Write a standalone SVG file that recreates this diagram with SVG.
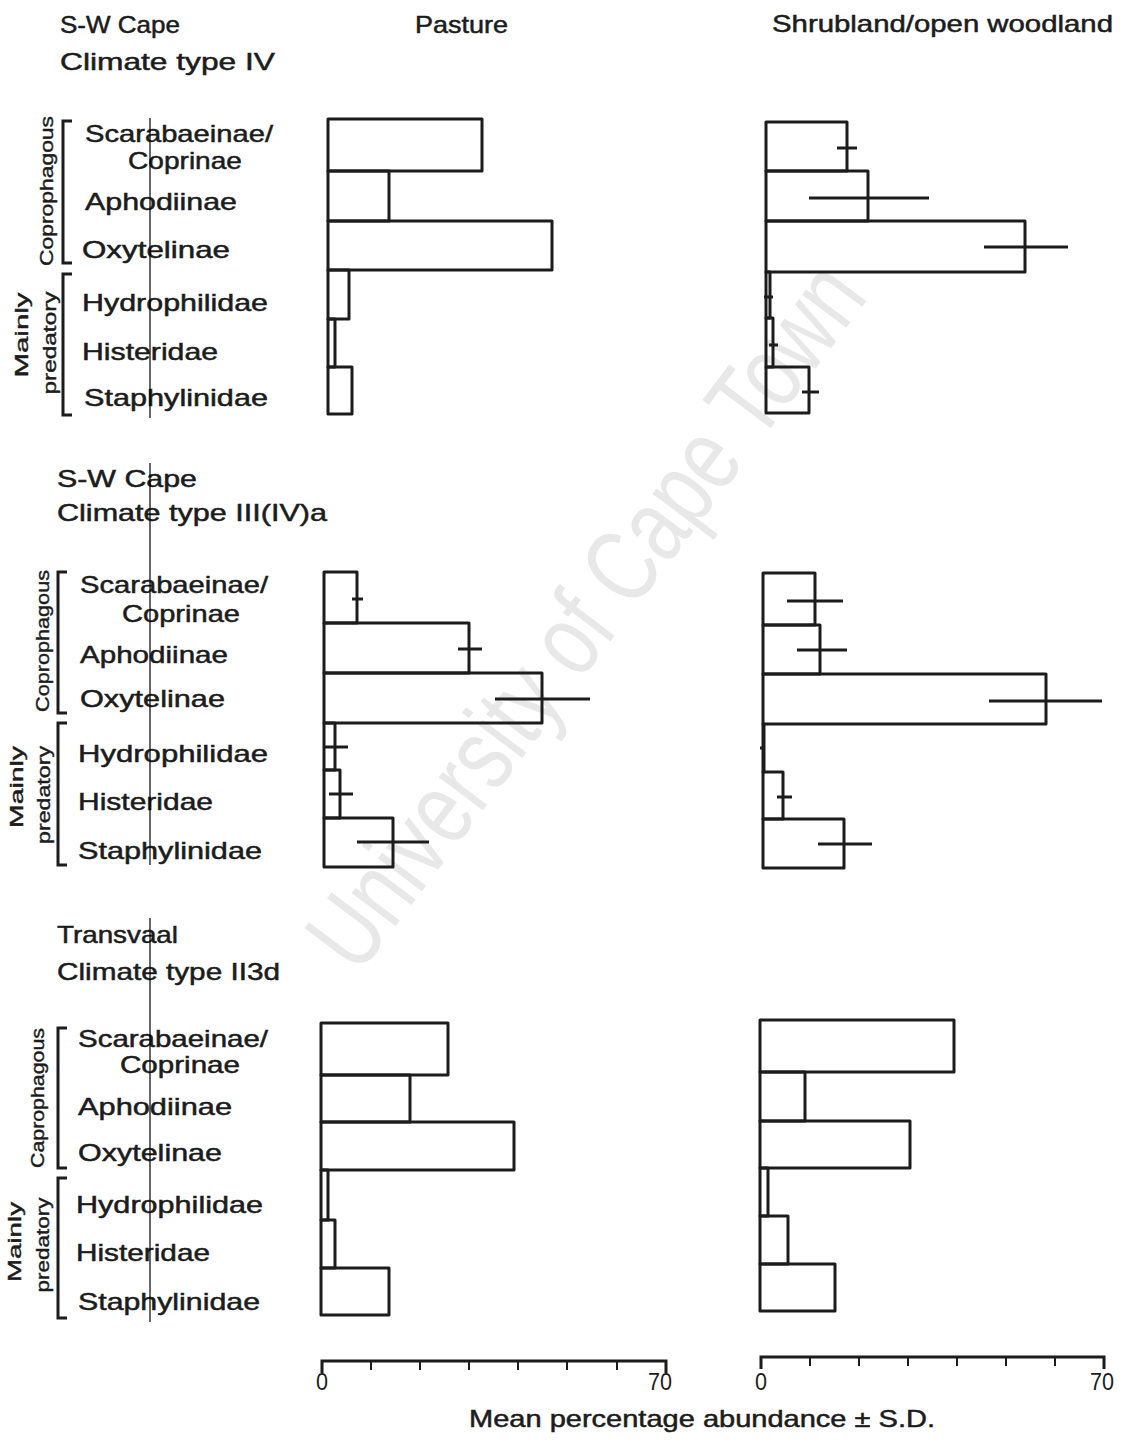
<svg xmlns="http://www.w3.org/2000/svg" width="1135" height="1441" viewBox="0 0 1135 1441">
<style>
.bg{fill:#ffffff}
.wm{font-family:"Liberation Sans",Arial,sans-serif;font-size:104px;fill:#e8e8e8}
.t{font-family:"Liberation Sans",Arial,sans-serif;font-size:24px;fill:#1c1c1c;stroke:#1c1c1c;stroke-width:0.5}
.g{font-family:"Liberation Sans",Arial,sans-serif;font-size:18px;fill:#1c1c1c;stroke:#1c1c1c;stroke-width:0.4}
.n{font-family:"Liberation Sans",Arial,sans-serif;font-size:23px;fill:#1c1c1c}
.bar{fill:none;stroke:#1c1c1c;stroke-width:3;stroke-linejoin:round}
.err{stroke:#1c1c1c;stroke-width:3;fill:none}
.br{fill:none;stroke:#1c1c1c;stroke-width:3}
.vl{stroke:#000;stroke-width:1.2}
.ax{fill:none;stroke:#1c1c1c;stroke-width:3}
.tk{stroke:#1c1c1c;stroke-width:2}
</style>
<rect class="bg" x="0" y="0" width="1135" height="1441"/>
<g id="watermark">
<text class="wm" x="0" y="0" text-anchor="middle" dominant-baseline="central" textLength="850" lengthAdjust="spacingAndGlyphs" transform="translate(585,615) rotate(-53)">University of Cape Town</text>
</g>
<g id="column-headers">
<text class="t" x="415" y="33" textLength="93" lengthAdjust="spacingAndGlyphs">Pasture</text>
<text class="t" x="772" y="32" textLength="341" lengthAdjust="spacingAndGlyphs">Shrubland/open woodland</text>
</g>
<g id="panel1">
<text class="t" x="60" y="33" textLength="120" lengthAdjust="spacingAndGlyphs">S-W Cape</text>
<text class="t" x="60" y="70" textLength="215" lengthAdjust="spacingAndGlyphs">Climate type IV</text>
<text class="t" x="85" y="142" textLength="188" lengthAdjust="spacingAndGlyphs">Scarabaeinae/</text>
<text class="t" x="128" y="169" textLength="114" lengthAdjust="spacingAndGlyphs">Coprinae</text>
<text class="t" x="85" y="210" textLength="152" lengthAdjust="spacingAndGlyphs">Aphodiinae</text>
<text class="t" x="82" y="258" textLength="148" lengthAdjust="spacingAndGlyphs">Oxytelinae</text>
<text class="t" x="82" y="311" textLength="186" lengthAdjust="spacingAndGlyphs">Hydrophilidae</text>
<text class="t" x="82" y="360" textLength="136" lengthAdjust="spacingAndGlyphs">Histeridae</text>
<text class="t" x="84" y="406" textLength="184" lengthAdjust="spacingAndGlyphs">Staphylinidae</text>
<path class="br" d="M72,121 H63 V263 H72"/>
<path class="br" d="M72,274 H63 V415 H72"/>
<text class="g" x="0" y="0" text-anchor="middle" textLength="150" lengthAdjust="spacingAndGlyphs" transform="translate(53,191) rotate(-90)">Coprophagous</text>
<text class="g" x="0" y="0" text-anchor="middle" textLength="85" lengthAdjust="spacingAndGlyphs" transform="translate(28,335) rotate(-90)">Mainly</text>
<text class="g" x="0" y="0" text-anchor="middle" textLength="103" lengthAdjust="spacingAndGlyphs" transform="translate(56,343) rotate(-90)">predatory</text>
<line class="vl" x1="150" y1="118" x2="150" y2="418"/>
<g id="p1-pasture">
<rect class="bar" x="328" y="119" width="154" height="52"/>
<rect class="bar" x="328" y="171" width="61" height="50"/>
<rect class="bar" x="328" y="221" width="224" height="49"/>
<rect class="bar" x="328" y="270" width="21" height="49"/>
<rect class="bar" x="328" y="319" width="7" height="48"/>
<rect class="bar" x="328" y="367" width="24" height="47"/>
</g>
<g id="p1-shrub">
<rect class="bar" x="766" y="122" width="81" height="49"/>
<rect class="bar" x="766" y="171" width="102" height="50"/>
<rect class="bar" x="766" y="221" width="259" height="51"/>
<rect class="bar" x="766" y="272" width="4" height="46"/>
<rect class="bar" x="766" y="318" width="7" height="49"/>
<rect class="bar" x="766" y="367" width="43" height="46"/>
<line class="err" x1="837" y1="148" x2="857" y2="148"/>
<line class="err" x1="809" y1="198" x2="929" y2="198"/>
<line class="err" x1="984" y1="247" x2="1068" y2="247"/>
<line class="err" x1="764" y1="297" x2="773" y2="297"/>
<line class="err" x1="769" y1="345" x2="778" y2="345"/>
<line class="err" x1="802" y1="392" x2="819" y2="392"/>
</g>
</g>
<g id="panel2">
<text class="t" x="57" y="487" textLength="140" lengthAdjust="spacingAndGlyphs">S-W Cape</text>
<text class="t" x="57" y="521" textLength="270" lengthAdjust="spacingAndGlyphs">Climate type III(IV)a</text>
<text class="t" x="80" y="593" textLength="188" lengthAdjust="spacingAndGlyphs">Scarabaeinae/</text>
<text class="t" x="122" y="622" textLength="118" lengthAdjust="spacingAndGlyphs">Coprinae</text>
<text class="t" x="80" y="663" textLength="148" lengthAdjust="spacingAndGlyphs">Aphodiinae</text>
<text class="t" x="80" y="707" textLength="145" lengthAdjust="spacingAndGlyphs">Oxytelinae</text>
<text class="t" x="78" y="762" textLength="190" lengthAdjust="spacingAndGlyphs">Hydrophilidae</text>
<text class="t" x="78" y="810" textLength="135" lengthAdjust="spacingAndGlyphs">Histeridae</text>
<text class="t" x="78" y="859" textLength="184" lengthAdjust="spacingAndGlyphs">Staphylinidae</text>
<path class="br" d="M67,572 H58 V713 H67"/>
<path class="br" d="M67,723 H58 V865 H67"/>
<text class="g" x="0" y="0" text-anchor="middle" textLength="142" lengthAdjust="spacingAndGlyphs" transform="translate(49,641) rotate(-90)">Coprophagous</text>
<text class="g" x="0" y="0" text-anchor="middle" textLength="82" lengthAdjust="spacingAndGlyphs" transform="translate(23,787) rotate(-90)">Mainly</text>
<text class="g" x="0" y="0" text-anchor="middle" textLength="98" lengthAdjust="spacingAndGlyphs" transform="translate(50,795) rotate(-90)">predatory</text>
<line class="vl" x1="150" y1="463" x2="150" y2="865"/>
<g id="p2-pasture">
<rect class="bar" x="324" y="572" width="33" height="51"/>
<rect class="bar" x="324" y="623" width="145" height="50"/>
<rect class="bar" x="324" y="673" width="218" height="50"/>
<rect class="bar" x="324" y="723" width="11" height="47"/>
<rect class="bar" x="324" y="770" width="16" height="48"/>
<rect class="bar" x="324" y="818" width="69" height="49"/>
<line class="err" x1="352" y1="599" x2="363" y2="599"/>
<line class="err" x1="458" y1="649" x2="482" y2="649"/>
<line class="err" x1="495" y1="699" x2="590" y2="699"/>
<line class="err" x1="324" y1="747" x2="348" y2="747"/>
<line class="err" x1="329" y1="794" x2="353" y2="794"/>
<line class="err" x1="357" y1="842" x2="429" y2="842"/>
</g>
<g id="p2-shrub">
<rect class="bar" x="763" y="573" width="52" height="52"/>
<rect class="bar" x="763" y="625" width="57" height="49"/>
<rect class="bar" x="763" y="674" width="283" height="50"/>
<rect class="bar" x="763" y="724" width="1" height="48"/>
<rect class="bar" x="763" y="772" width="20" height="47"/>
<rect class="bar" x="763" y="819" width="81" height="49"/>
<line class="err" x1="787" y1="601" x2="843" y2="601"/>
<line class="err" x1="797" y1="650" x2="847" y2="650"/>
<line class="err" x1="989" y1="701" x2="1102" y2="701"/>
<line class="err" x1="760" y1="748" x2="765" y2="748"/>
<line class="err" x1="777" y1="797" x2="792" y2="797"/>
<line class="err" x1="818" y1="844" x2="872" y2="844"/>
</g>
</g>
<g id="panel3">
<text class="t" x="57" y="943" textLength="121" lengthAdjust="spacingAndGlyphs">Transvaal</text>
<text class="t" x="57" y="980" textLength="223" lengthAdjust="spacingAndGlyphs">Climate type II3d</text>
<text class="t" x="78" y="1047" textLength="190" lengthAdjust="spacingAndGlyphs">Scarabaeinae/</text>
<text class="t" x="120" y="1073" textLength="120" lengthAdjust="spacingAndGlyphs">Coprinae</text>
<text class="t" x="78" y="1115" textLength="154" lengthAdjust="spacingAndGlyphs">Aphodiinae</text>
<text class="t" x="78" y="1161" textLength="144" lengthAdjust="spacingAndGlyphs">Oxytelinae</text>
<text class="t" x="76" y="1213" textLength="187" lengthAdjust="spacingAndGlyphs">Hydrophilidae</text>
<text class="t" x="76" y="1261" textLength="134" lengthAdjust="spacingAndGlyphs">Histeridae</text>
<text class="t" x="78" y="1310" textLength="182" lengthAdjust="spacingAndGlyphs">Staphylinidae</text>
<path class="br" d="M67,1028 H58 V1168 H67"/>
<path class="br" d="M67,1178 H58 V1318 H67"/>
<text class="g" x="0" y="0" text-anchor="middle" textLength="140" lengthAdjust="spacingAndGlyphs" transform="translate(44,1098) rotate(-90)">Caprophagous</text>
<text class="g" x="0" y="0" text-anchor="middle" textLength="80" lengthAdjust="spacingAndGlyphs" transform="translate(21,1242) rotate(-90)">Mainly</text>
<text class="g" x="0" y="0" text-anchor="middle" textLength="95" lengthAdjust="spacingAndGlyphs" transform="translate(49,1245) rotate(-90)">predatory</text>
<line class="vl" x1="150" y1="918" x2="150" y2="1322"/>
<g id="p3-pasture">
<rect class="bar" x="321" y="1023" width="127" height="52"/>
<rect class="bar" x="321" y="1075" width="89" height="47"/>
<rect class="bar" x="321" y="1122" width="193" height="48"/>
<rect class="bar" x="321" y="1170" width="7" height="50"/>
<rect class="bar" x="321" y="1220" width="14" height="48"/>
<rect class="bar" x="321" y="1268" width="68" height="47"/>
</g>
<g id="p3-shrub">
<rect class="bar" x="760" y="1020" width="194" height="52"/>
<rect class="bar" x="760" y="1072" width="45" height="49"/>
<rect class="bar" x="760" y="1121" width="150" height="47"/>
<rect class="bar" x="760" y="1168" width="8" height="48"/>
<rect class="bar" x="760" y="1216" width="28" height="48"/>
<rect class="bar" x="760" y="1264" width="75" height="47"/>
</g>
</g>
<g id="axes">
<path class="ax" d="M322,1373 V1361 H666 V1373"/>
<path class="tk" d="M371,1361 V1370 M420,1361 V1370 M469,1361 V1370 M518,1361 V1370 M567,1361 V1370 M617,1361 V1370"/>
<text class="n" x="322" y="1390" text-anchor="middle" textLength="12" lengthAdjust="spacingAndGlyphs">0</text>
<text class="n" x="660" y="1390" text-anchor="middle" textLength="24" lengthAdjust="spacingAndGlyphs">70</text>
<path class="ax" d="M761,1369 V1357 H1104 V1369"/>
<path class="tk" d="M810,1357 V1366 M859,1357 V1366 M908,1357 V1366 M957,1357 V1366 M1006,1357 V1366 M1055,1357 V1366"/>
<text class="n" x="761" y="1390" text-anchor="middle" textLength="12" lengthAdjust="spacingAndGlyphs">0</text>
<text class="n" x="1102" y="1390" text-anchor="middle" textLength="24" lengthAdjust="spacingAndGlyphs">70</text>
<text class="t" x="469" y="1427" textLength="466" lengthAdjust="spacingAndGlyphs">Mean percentage  abundance ± S.D.</text>
</g>
</svg>
